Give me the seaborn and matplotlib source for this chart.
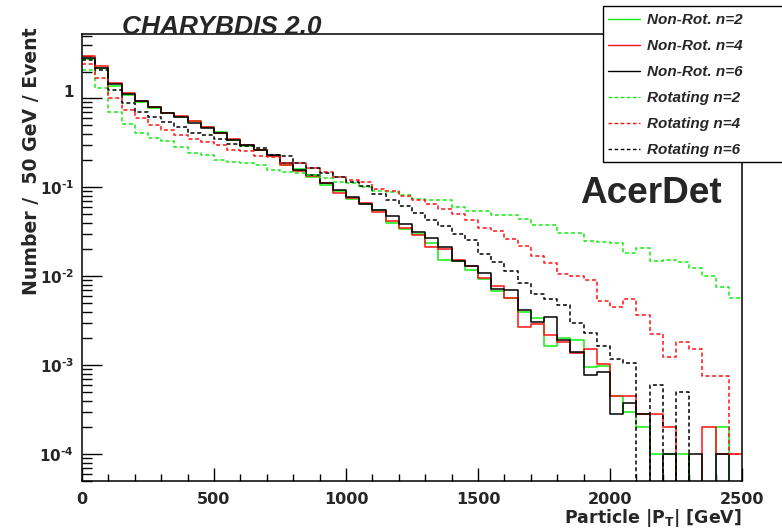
import numpy as np
import pandas as pd
import matplotlib
matplotlib.use("Agg")
import matplotlib.pyplot as plt
import matplotlib.transforms as mtransforms
import seaborn as sns
from matplotlib.ticker import FixedLocator, LogLocator, NullFormatter, MultipleLocator
from matplotlib.lines import Line2D
from matplotlib.patches import Rectangle
from matplotlib.font_manager import FontProperties

# ---------------- data ----------------
bin_width = 50
x_max = 2500

nonrot_n2 = [2.76, 2.17, 1.38, 1.10, 0.91, 0.78, 0.68, 0.61, 0.55, 0.48,
             0.42, 0.34, 0.289, 0.26, 0.225, 0.18, 0.16, 0.132, 0.107, 0.091,
             0.0747, 0.065, 0.055, 0.0394, 0.034, 0.030, 0.0238, 0.0154, 0.015, 0.0119,
             0.0094, 0.0069, 0.0057, 0.0040, 0.0034, 0.00165, 0.0020, 0.0019, 0.00096, 0.00098,
             0.00045, 0.0003, 0.0002, 0.0001, 0.0001, 0.0001, 0.0, 0.0, 0.0002, 0.0]
nonrot_n4 = [2.96, 2.30, 1.49, 1.15, 0.94, 0.80, 0.68, 0.63, 0.55, 0.48,
             0.41, 0.347, 0.30, 0.26, 0.224, 0.178, 0.151, 0.134, 0.111, 0.087,
             0.0767, 0.0673, 0.0533, 0.042, 0.035, 0.029, 0.0214, 0.020, 0.0152, 0.013,
             0.0096, 0.0077, 0.0057, 0.0027, 0.0029, 0.0022, 0.00183, 0.00137, 0.00152, 0.00103,
             0.00045, 0.00045, 0.00028, 0.00028, 0.0002, 0.0, 0.0, 0.0002, 0.0001, 0.0001]
nonrot_n6 = [2.85, 2.20, 1.44, 1.11, 0.94, 0.79, 0.69, 0.61, 0.53, 0.46,
             0.41, 0.34, 0.30, 0.26, 0.23, 0.186, 0.158, 0.137, 0.113, 0.093,
             0.078, 0.0645, 0.056, 0.0476, 0.039, 0.0314, 0.0267, 0.0214, 0.0148, 0.013,
             0.0109, 0.0071, 0.0070, 0.0042, 0.0031, 0.0035, 0.0019, 0.0014, 0.00077, 0.00084,
             0.00028, 0.00038, 0.00028, 0.0, 0.0001, 0.0, 0.0001, 0.0, 0.0001, 0.0]
rot_n2 = [2.06, 1.29, 0.71, 0.51, 0.41, 0.36, 0.33, 0.28, 0.24, 0.23,
          0.20, 0.194, 0.186, 0.178, 0.156, 0.150, 0.143, 0.137, 0.127, 0.115,
          0.113, 0.101, 0.091, 0.0895, 0.082, 0.0747, 0.072, 0.072, 0.060, 0.054,
          0.054, 0.0487, 0.0487, 0.0440, 0.0375, 0.0375, 0.0305, 0.0305, 0.0250, 0.0245,
          0.0238, 0.0183, 0.0209, 0.0150, 0.0154, 0.0145, 0.0124, 0.0100, 0.0075, 0.0057]
rot_n4 = [2.42, 1.70, 1.00, 0.73, 0.60, 0.50, 0.435, 0.39, 0.35, 0.32,
          0.30, 0.265, 0.256, 0.227, 0.221, 0.188, 0.186, 0.163, 0.150, 0.129,
          0.120, 0.115, 0.0955, 0.091, 0.079, 0.072, 0.065, 0.0567, 0.050, 0.043,
          0.035, 0.0324, 0.0265, 0.0217, 0.0168, 0.0141, 0.0107, 0.0100, 0.0091, 0.0053,
          0.00447, 0.0056, 0.00363, 0.00223, 0.00125, 0.00184, 0.00152, 0.00075, 0.00075, 0.0001]
rot_n6 = [2.70, 2.06, 1.25, 0.885, 0.71, 0.615, 0.54, 0.47, 0.41, 0.39,
          0.35, 0.31, 0.29, 0.274, 0.231, 0.223, 0.188, 0.163, 0.145, 0.129,
          0.115, 0.104, 0.085, 0.0716, 0.0618, 0.052, 0.043, 0.0367, 0.0296, 0.0253,
          0.018, 0.0145, 0.0116, 0.0084, 0.0063, 0.0056, 0.0048, 0.0030, 0.0023, 0.00165,
          0.00117, 0.00105, 0.0, 0.0006, 0.0, 0.0005, 0.0, 0.0, 0.0, 0.0]

series_labels = ["Non-Rot. n=2", "Non-Rot. n=4", "Non-Rot. n=6",
                 "Rotating n=2", "Rotating n=4", "Rotating n=6"]
x_ticks = [0, 500, 1000, 1500, 2000, 2500]
x_tick_labels = ["0", "500", "1000", "1500", "2000", "2500"]
y_ticks = [1e-4, 1e-3, 1e-2, 1e-1, 1]
y_tick_labels = ["$10^{\u2010" + "4}$", "$10^{\u2010" + "3}$", "$10^{\u2010" + "2}$",
                 "$10^{\u2010" + "1}$", "1"]

# ---------------- style ----------------
sns.set_style("ticks")
plt.rcParams["font.family"] = ["DejaVu Sans"]
plt.rcParams["font.weight"] = "bold"
plt.rcParams["mathtext.fontset"] = "dejavusans"
plt.rcParams["mathtext.default"] = "bf"

W, H = 782, 529
fig = plt.figure(figsize=(W / 100, H / 100), dpi=100)
fig.patch.set_facecolor("white")
ax = fig.add_axes([82 / W, 1 - 481 / H, 660 / W, 447 / H])
ax.set_facecolor("white")

edges = [float(e) for e in np.arange(0, x_max + bin_width, bin_width)]
centers = [e + bin_width / 2 for e in edges[:-1]]

series = [nonrot_n2, nonrot_n4, nonrot_n6, rot_n2, rot_n4, rot_n6]
colors = ["#11ee11", "#ff1111", "#000000", "#11ee11", "#ff1111", "#000000"]
dash = (0, (2.6, 1.8))
styles = ["-", "-", "-", dash, dash, dash]

for vals, c, ls in zip(series, colors, styles):
    df = pd.DataFrame({"pt": centers, "w": vals})
    sns.histplot(data=df, x="pt", weights="w", bins=edges, element="step",
                 fill=False, color=c, linestyle=ls, linewidth=1.1, ax=ax)

ax.set_yscale("log")
ax.set_xlim(0, x_max)
ax.set_ylim(5e-5, 5.28)
ax.set_xlabel("")
ax.set_ylabel("")

ax.xaxis.set_major_locator(FixedLocator(x_ticks))
ax.set_xticklabels(x_tick_labels)
ax.xaxis.set_minor_locator(MultipleLocator(100))
ax.yaxis.set_major_locator(FixedLocator(y_ticks))
ylabs = ax.set_yticklabels(y_tick_labels)
ax.yaxis.set_minor_locator(LogLocator(base=10, subs=np.arange(2, 10)))
ax.yaxis.set_minor_formatter(NullFormatter())

ax.tick_params(axis="both", which="both", direction="in", top=False, right=False,
               width=1.0, color="black")
ax.tick_params(axis="x", which="major", length=9.4, pad=8, labelsize=11.5)
ax.tick_params(axis="x", which="minor", length=4.8)
ax.tick_params(axis="y", which="major", length=14.4, pad=5.8, labelsize=11)
ax.tick_params(axis="y", which="minor", length=7)
for sp in ax.spines.values():
    sp.set_visible(True)
    sp.set_linewidth(1.1)
    sp.set_color("black")

# the plain "1" label sits a little above its tick in the reference
ylabs[-1].set_transform(ylabs[-1].get_transform() +
                        mtransforms.ScaledTranslation(0, 5 / 72, fig.dpi_scale_trans))

# ---------------- texts ----------------
fig.text(122 / W, 1 - 34 / H, "CHARYBDIS 2.0", ha="left", va="baseline",
         fontsize=18.9, fontweight="bold", fontstyle="italic",
         family=["Liberation Sans", "DejaVu Sans"])
fig.text(580 / W, 1 - 203.3 / H, "AcerDet", ha="left", va="baseline",
         fontsize=26.6, fontweight="bold", family=["Liberation Sans", "DejaVu Sans"])
fig.text(32 / W, 1 - 161 / H, "Number /  50 GeV / Event", rotation=90,
         ha="center", va="center", fontsize=13.6, fontweight="bold")
fig.text(742 / W, 1 - 523 / H, r"Particle |P$_{T}$| [GeV]", ha="right",
         va="baseline", fontsize=12.5, fontweight="bold")

# ---------------- legend ----------------
box = Rectangle((602.7 / W, 1 - 162.3 / H), 0.3, 156.3 / H, transform=fig.transFigure,
                facecolor="white", edgecolor="black", linewidth=1.0, zorder=4,
                clip_on=False)
fig.add_artist(box)
handles = [Line2D([], [], color=c, linestyle=ls, linewidth=1.0)
           for c, ls in zip(colors, styles)]
leg_font = FontProperties(family=["Liberation Sans", "DejaVu Sans"], weight="bold",
                          style="italic", size=11)
leg = fig.legend(handles, series_labels, loc="upper left",
                 bbox_to_anchor=(608 / W, 1 - 13.5 / H), frameon=False, prop=leg_font,
                 handlelength=2.1, handletextpad=0.45, labelspacing=0.78,
                 borderpad=0, borderaxespad=0)
leg.set_zorder(5)

fig.savefig("out.png", dpi=100, facecolor="white")
